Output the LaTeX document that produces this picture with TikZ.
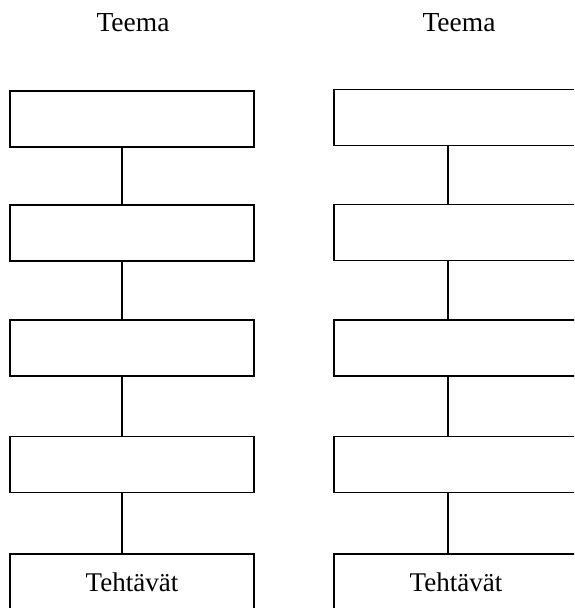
\documentclass[tikz,border=0pt]{standalone}
\usepackage{fontspec}
\setmainfont{Liberation Serif}
\usetikzlibrary{positioning}

\begin{document}
\begin{tikzpicture}[x=1pt, y=-1pt,
    box/.style={draw, line width=1.6pt, minimum width=244pt, minimum height=56pt, inner sep=0pt, align=center, font=\fontsize{27}{31}\selectfont},
    ttl/.style={font=\fontsize{27.5}{32}\selectfont},
    link/.style={line width=1.6pt}
]
\clip (0,0) rectangle (574,608);
\coordinate (lsp) at (122,0);
\coordinate (rsp) at (448,0);

\node[ttl] (lteema) at (133,23) {Teema};
\node[ttl] (rteema) at (459,23) {Teema};

\node[box] (lb1) at (132,119) {};
\node[box] (lb2) at (132,233) {};
\node[box] (lb3) at (132,348) {};
\node[box] (lb4) at (132,464.5) {};
\node[box] (lb5) at (132,582) {Tehtävät};

\node[box] (rb1) at (456,117.5) {};
\node[box] (rb2) at (456,232.5) {};
\node[box] (rb3) at (456,348) {};
\node[box] (rb4) at (456,464.5) {};
\node[box] (rb5) at (456,582) {Tehtävät};

\draw[link] (lb1.south -| lsp) -- (lb2.north -| lsp);
\draw[link] (lb2.south -| lsp) -- (lb3.north -| lsp);
\draw[link] (lb3.south -| lsp) -- (lb4.north -| lsp);
\draw[link] (lb4.south -| lsp) -- (lb5.north -| lsp);
\draw[link] (rb1.south -| rsp) -- (rb2.north -| rsp);
\draw[link] (rb2.south -| rsp) -- (rb3.north -| rsp);
\draw[link] (rb3.south -| rsp) -- (rb4.north -| rsp);
\draw[link] (rb4.south -| rsp) -- (rb5.north -| rsp);
\end{tikzpicture}
\end{document}
